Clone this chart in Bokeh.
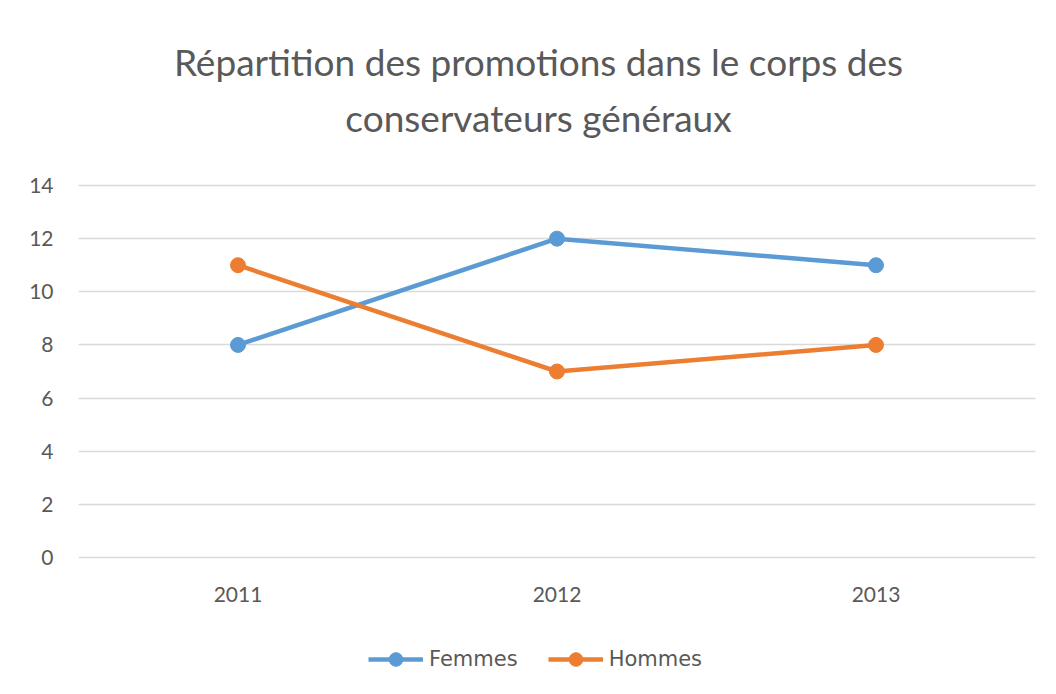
from bokeh.plotting import figure
from bokeh.models import Label, Legend, LegendItem, FactorRange, Range1d, FixedTicker
from bokeh.embed import file_html
from bokeh.resources import INLINE

years = ["2011", "2012", "2013"]
femmes = [8, 12, 11]
hommes = [11, 7, 8]
y_ticks = [0, 2, 4, 6, 8, 10, 12, 14]
title_line1 = "Répartition des promotions dans le corps des"
title_line2 = "conservateurs généraux"

BLUE = "#5B9BD5"
ORANGE = "#ED7D31"
GREY = "#595959"
FONT = "Lato"

# layout: value axis 0..14 spans 372 px; frame extends up to hold the title
PPU = 372 / 14.0
Y_TOP = 14 + 185 / PPU
Y_BOTTOM = -129 / PPU

p = figure(x_range=FactorRange(*years, range_padding=0), y_range=Range1d(Y_BOTTOM, Y_TOP),
           frame_width=957, frame_height=686, output_backend="svg", toolbar_location=None,
           min_border_left=78, min_border_right=13, min_border_top=0, min_border_bottom=4)

p.outline_line_color = None
p.xgrid.grid_line_color = None
p.ygrid.grid_line_color = "#D9D9D9"
p.ygrid.grid_line_width = 1.3
p.yaxis.ticker = FixedTicker(ticks=y_ticks)
p.xaxis.fixed_location = 0
for ax in (p.xaxis, p.yaxis):
    ax.axis_line_color = None
    ax.major_tick_line_color = None
    ax.minor_tick_line_color = None
    ax.major_tick_out = 0
    ax.major_tick_in = 0
    ax.major_label_text_color = GREY
    ax.major_label_text_font = FONT
    ax.major_label_text_font_size = "21px"
p.yaxis.major_label_standoff = 25
p.xaxis.major_label_standoff = 29

title_x = 1.5 - 18.5 / 319
for txt, base_px in ((title_line1, 61), (title_line2, 117)):
    p.add_layout(Label(x=title_x, y=14 + (185 - base_px) / PPU, text=txt,
                       text_align="center", text_baseline="alphabetic",
                       text_font=FONT, text_font_size="37px", text_color=GREY))

l1 = p.line(years, femmes, line_color=BLUE, line_width=4.5)
s1 = p.scatter(years, femmes, size=15, fill_color=BLUE, line_color=BLUE)
l2 = p.line(years, hommes, line_color=ORANGE, line_width=4.5)
s2 = p.scatter(years, hommes, size=15, fill_color=ORANGE, line_color=ORANGE)

legend = Legend(items=[LegendItem(label="Femmes", renderers=[l1, s1]),
                       LegendItem(label="Hommes", renderers=[l2, s2])],
                orientation="horizontal", location=(290, 10), glyph_width=55, glyph_height=34,
                label_text_font="DejaVu Sans", label_text_font_size="21px", label_text_color=GREY,
                label_standoff=6, spacing=30, border_line_color=None, margin=0, padding=6,
                background_fill_alpha=0)
p.add_layout(legend)

open("out.html", "w").write(file_html(p, INLINE))
